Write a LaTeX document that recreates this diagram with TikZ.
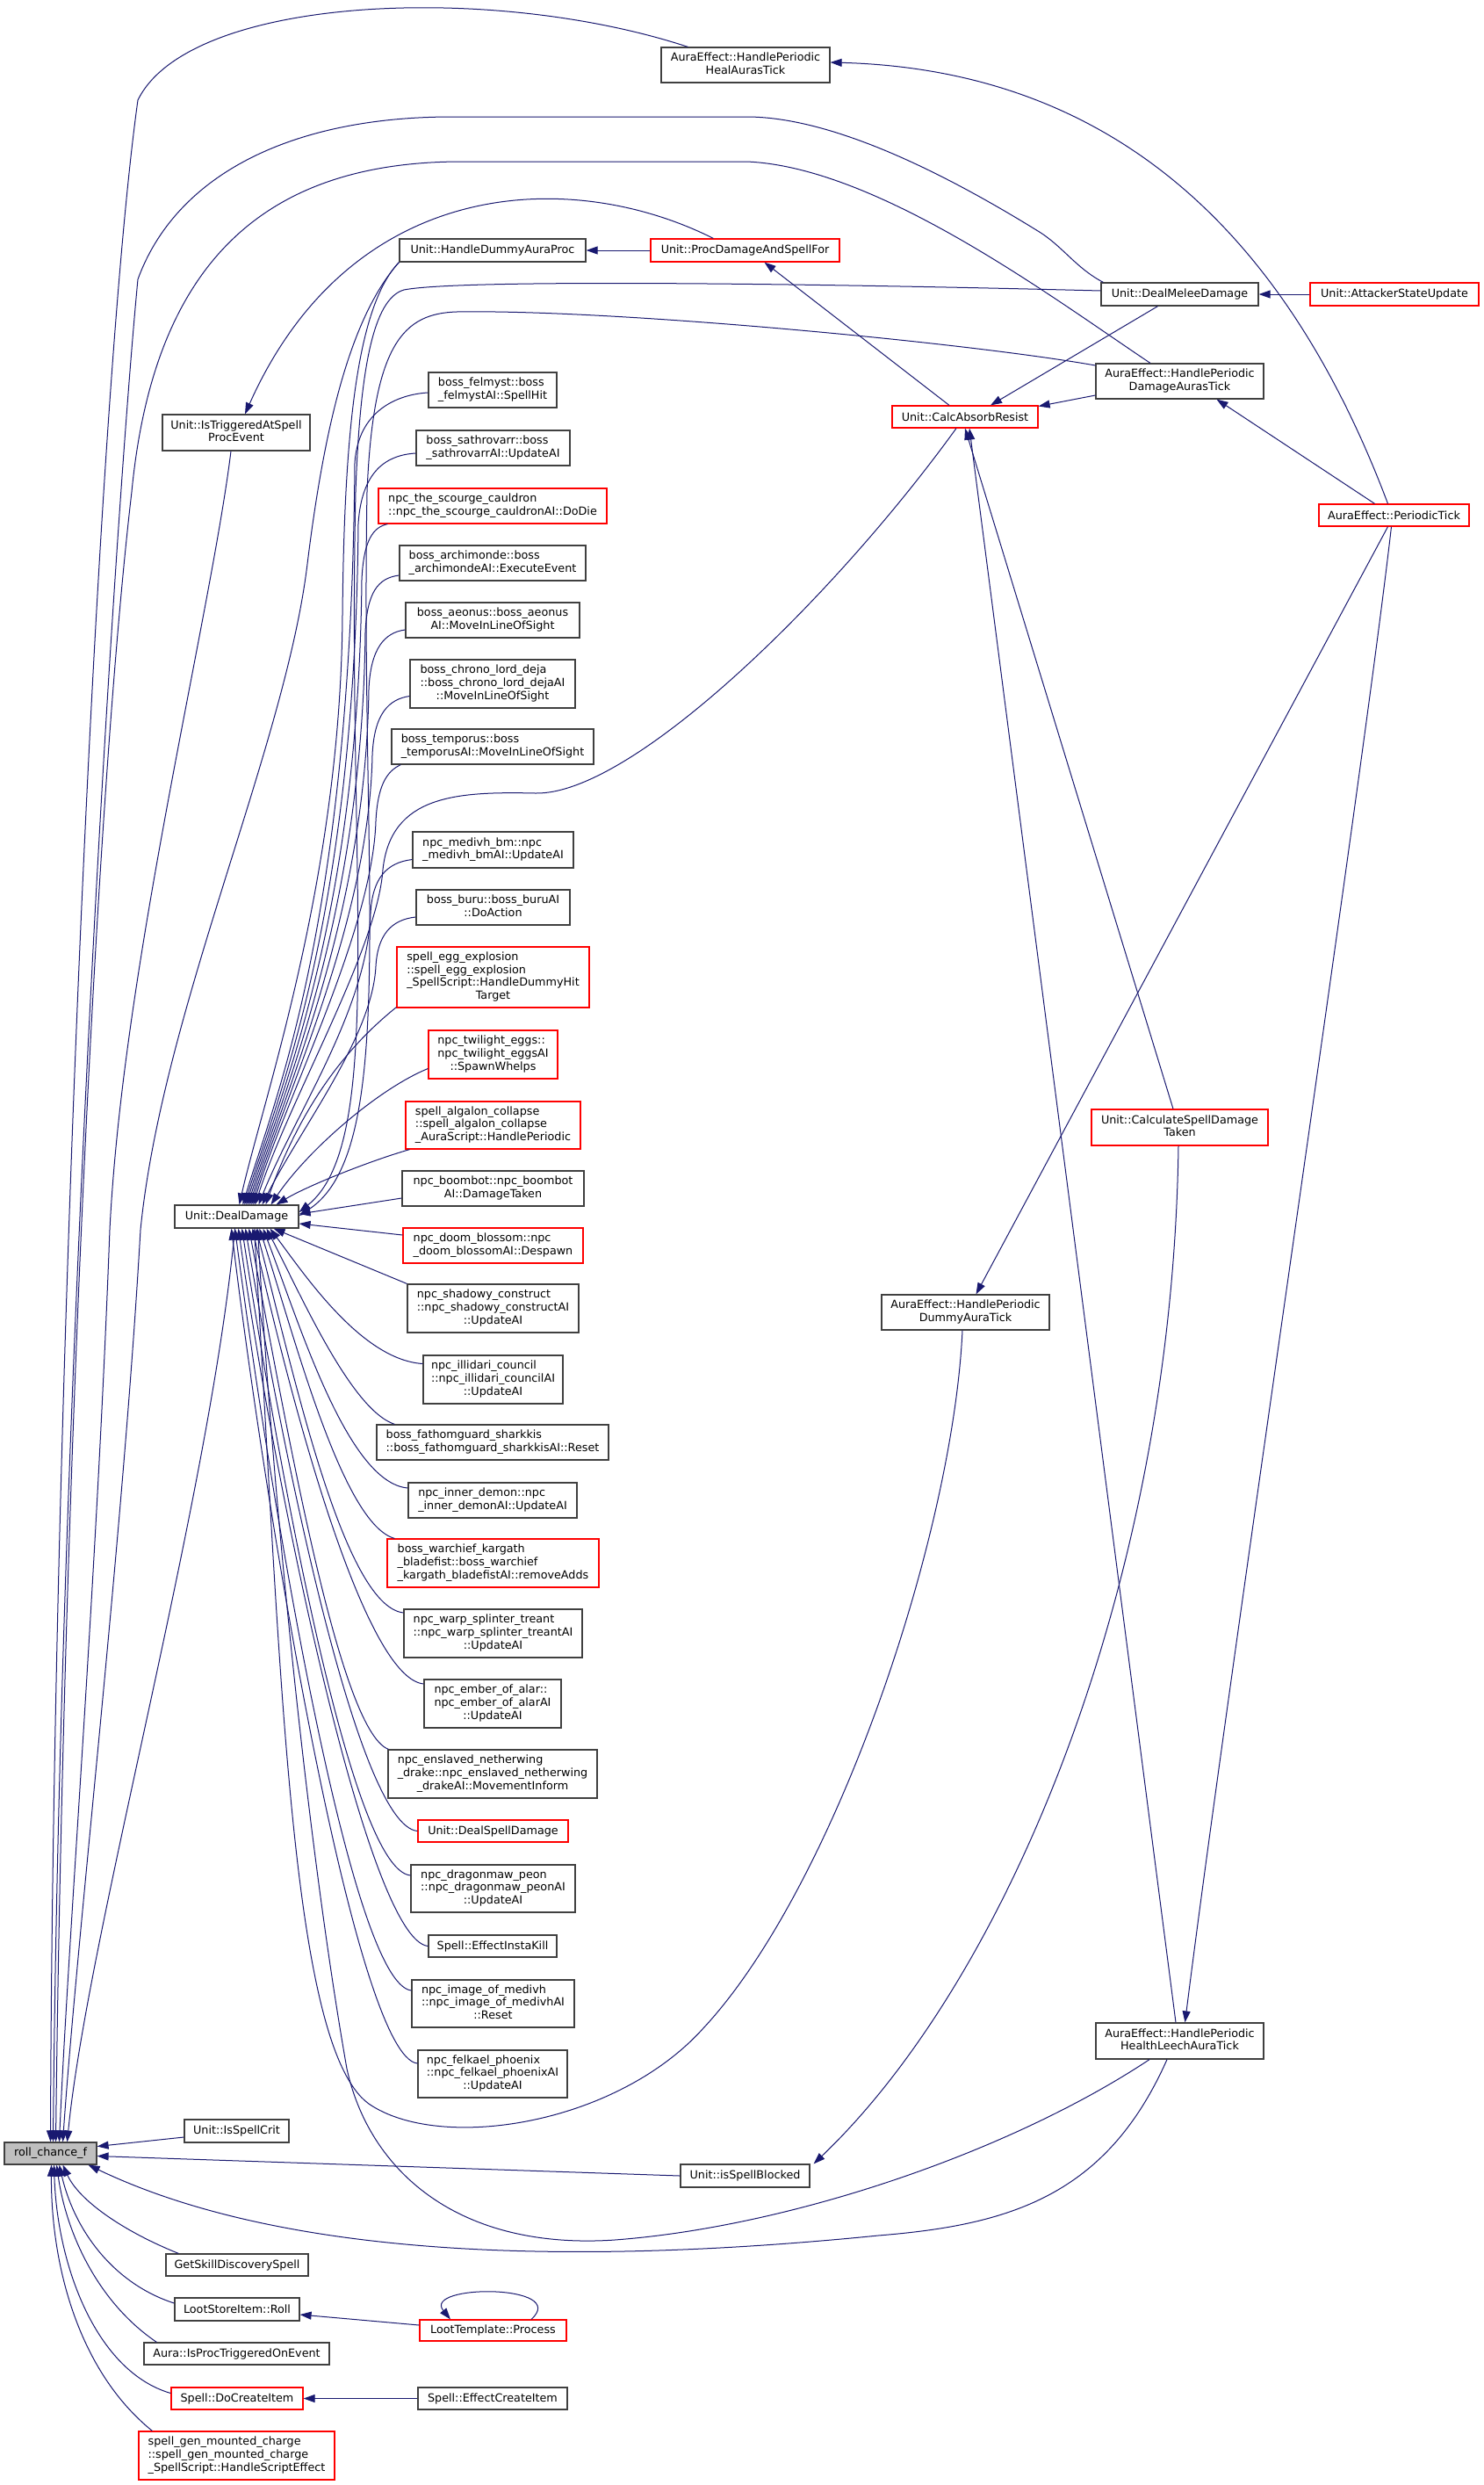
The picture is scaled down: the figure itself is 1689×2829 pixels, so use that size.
\documentclass[tikz,border=0pt]{standalone}
\usepackage{fontspec}
\setmainfont{DejaVu Sans}
\usetikzlibrary{arrows.meta,calc}
\definecolor{edgec}{HTML}{191970}
\definecolor{boxc}{HTML}{404040}
\definecolor{redc}{HTML}{FF0000}
\definecolor{rollfill}{HTML}{BFBFBF}
\newcommand\dlab[2]{\begin{tabular}{@{}l@{}}#1\\\multicolumn{1}{@{}c@{}}{#2}\end{tabular}}
\begin{document}
\begin{tikzpicture}[x=1pt,y=-1pt,
  dbox/.style={draw=boxc,line width=1.2pt,fill=white,inner sep=0pt,font=\fontsize{12.75pt}{14.6pt}\selectfont},
  rdbox/.style={dbox,draw=redc},
  conn/.style={draw=edgec,line width=1pt,-{Triangle[length=13pt,width=9pt]}}]
\fill[white] (0,0) rectangle (1689,2829);
\useasboundingbox (0,0) rectangle (1689,2829);

% ---------- nodes ----------
\node[dbox,minimum width=105pt,minimum height=25pt,fill=rollfill] (roll) at (57.5,2451.5) {roll\_chance\_f};
\node[dbox,minimum width=168pt,minimum height=41pt] (isTrig) at (269,492.5) {\dlab{Unit::IsTriggeredAtSpell}{ProcEvent}};
\node[dbox,minimum width=192pt,minimum height=40pt] (heal) at (849,74) {\dlab{AuraEffect::HandlePeriodic}{HealAurasTick}};
\node[dbox,minimum width=212pt,minimum height=26pt] (dummyProc) at (561,285) {Unit::HandleDummyAuraProc};
\node[rdbox,minimum width=215pt,minimum height=26pt] (procDmg) at (848.5,285) {Unit::ProcDamageAndSpellFor};
\node[dbox,minimum width=179pt,minimum height=26pt] (melee) at (1343.5,335) {Unit::DealMeleeDamage};
\node[rdbox,minimum width=192pt,minimum height=26pt] (attacker) at (1588,335) {Unit::AttackerStateUpdate};
\node[dbox,minimum width=191pt,minimum height=40pt] (dmgTick) at (1343.5,434) {\dlab{AuraEffect::HandlePeriodic}{DamageAurasTick}};
\node[rdbox,minimum width=166pt,minimum height=25pt] (calcAbs) at (1099,474.5) {Unit::CalcAbsorbResist};
\node[rdbox,minimum width=171pt,minimum height=25pt] (periodic) at (1587.5,586.5) {AuraEffect::PeriodicTick};

\node[dbox,minimum width=146pt,minimum height=40pt] (felmyst) at (561,444) {\dlab{boss\_felmyst::boss}{\_felmystAI::SpellHit}};
\node[dbox,minimum width=175pt,minimum height=40pt] (sath) at (561.5,510) {\dlab{boss\_sathrovarr::boss}{\_sathrovarrAI::UpdateAI}};
\node[rdbox,minimum width=260pt,minimum height=40pt] (cauldron) at (561,576) {\dlab{npc\_the\_scourge\_cauldron}{::npc\_the\_scourge\_cauldronAI::DoDie}};
\node[dbox,minimum width=212pt,minimum height=40pt] (archi) at (561,641) {\dlab{boss\_archimonde::boss}{\_archimondeAI::ExecuteEvent}};
\node[dbox,minimum width=198pt,minimum height=40pt] (aeonus) at (561,706) {\dlab{boss\_aeonus::boss\_aeonus}{AI::MoveInLineOfSight}};
\node[dbox,minimum width=188pt,minimum height=55pt] (chrono) at (561,778.5) {\dlab{boss\_chrono\_lord\_deja\\::boss\_chrono\_lord\_dejaAI}{::MoveInLineOfSight}};
\node[dbox,minimum width=230pt,minimum height=40pt] (temporus) at (561,850) {\dlab{boss\_temporus::boss}{\_temporusAI::MoveInLineOfSight}};
\node[dbox,minimum width=183pt,minimum height=41pt] (medivhbm) at (561.5,967.5) {\dlab{npc\_medivh\_bm::npc}{\_medivh\_bmAI::UpdateAI}};
\node[dbox,minimum width=175pt,minimum height=40pt] (buru) at (561.5,1033) {\dlab{boss\_buru::boss\_buruAI}{::DoAction}};
\node[rdbox,minimum width=219pt,minimum height=69pt] (egg) at (561.5,1112.5) {\dlab{spell\_egg\_explosion\\::spell\_egg\_explosion\\\_SpellScript::HandleDummyHit}{Target}};
\node[rdbox,minimum width=147pt,minimum height=55pt] (twilight) at (561.5,1200.5) {\dlab{npc\_twilight\_eggs::\\npc\_twilight\_eggsAI}{::SpawnWhelps}};
\node[rdbox,minimum width=199pt,minimum height=54pt] (algalon) at (561.5,1281) {\dlab{spell\_algalon\_collapse\\::spell\_algalon\_collapse}{\_AuraScript::HandlePeriodic}};
\node[dbox,minimum width=207pt,minimum height=40pt] (boombot) at (561.5,1353) {\dlab{npc\_boombot::npc\_boombot}{AI::DamageTaken}};
\node[rdbox,minimum width=205pt,minimum height=40pt] (doom) at (561.5,1418) {\dlab{npc\_doom\_blossom::npc}{\_doom\_blossomAI::Despawn}};
\node[dbox,minimum width=195pt,minimum height=55pt] (shadowy) at (561.5,1489.5) {\dlab{npc\_shadowy\_construct\\::npc\_shadowy\_constructAI}{::UpdateAI}};
\node[dbox,minimum width=159pt,minimum height=55pt] (illidari) at (561.5,1570.5) {\dlab{npc\_illidari\_council\\::npc\_illidari\_councilAI}{::UpdateAI}};
\node[dbox,minimum width=264pt,minimum height=40pt] (fathom) at (561,1642) {\dlab{boss\_fathomguard\_sharkkis}{::boss\_fathomguard\_sharkkisAI::Reset}};
\node[dbox,minimum width=192pt,minimum height=40pt] (inner) at (561,1708) {\dlab{npc\_inner\_demon::npc}{\_inner\_demonAI::UpdateAI}};
\node[rdbox,minimum width=241pt,minimum height=55pt] (warchief) at (561.5,1779.5) {\dlab{boss\_warchief\_kargath\\\_bladefist::boss\_warchief}{\_kargath\_bladefistAI::removeAdds}};
\node[dbox,minimum width=203pt,minimum height=55pt] (warp) at (561.5,1859.5) {\dlab{npc\_warp\_splinter\_treant\\::npc\_warp\_splinter\_treantAI}{::UpdateAI}};
\node[dbox,minimum width=156pt,minimum height=55pt] (ember) at (561,1939.5) {\dlab{npc\_ember\_of\_alar::\\npc\_ember\_of\_alarAI}{::UpdateAI}};
\node[dbox,minimum width=238pt,minimum height=55pt] (enslaved) at (561,2019.5) {\dlab{npc\_enslaved\_netherwing\\\_drake::npc\_enslaved\_netherwing}{\_drakeAI::MovementInform}};
\node[rdbox,minimum width=171pt,minimum height=25pt] (dealSpell) at (561.5,2084.5) {Unit::DealSpellDamage};
\node[dbox,minimum width=187pt,minimum height=54pt] (dragonmaw) at (561.5,2150) {\dlab{npc\_dragonmaw\_peon\\::npc\_dragonmaw\_peonAI}{::UpdateAI}};
\node[dbox,minimum width=146pt,minimum height=25pt] (instakill) at (561,2215.5) {Spell::EffectInstaKill};
\node[dbox,minimum width=185pt,minimum height=54pt] (imageMed) at (561.5,2281) {\dlab{npc\_image\_of\_medivh\\::npc\_image\_of\_medivhAI}{::Reset}};
\node[dbox,minimum width=170pt,minimum height=54pt] (felkael) at (561,2361) {\dlab{npc\_felkael\_phoenix\\::npc\_felkael\_phoenixAI}{::UpdateAI}};

\node[dbox,minimum width=141pt,minimum height=26pt] (dealDmg) at (269.5,1385) {Unit::DealDamage};
\node[rdbox,minimum width=201pt,minimum height=41pt] (csdt) at (1343.5,1283.5) {\dlab{Unit::CalculateSpellDamage}{Taken}};
\node[dbox,minimum width=191pt,minimum height=40pt] (dummyTick) at (1099.5,1494) {\dlab{AuraEffect::HandlePeriodic}{DummyAuraTick}};
\node[dbox,minimum width=191pt,minimum height=41pt] (leech) at (1343.5,2323.5) {\dlab{AuraEffect::HandlePeriodic}{HealthLeechAuraTick}};
\node[dbox,minimum width=147pt,minimum height=26pt] (blocked) at (848.5,2477) {Unit::isSpellBlocked};
\node[dbox,minimum width=119pt,minimum height=26pt] (spellCrit) at (269.5,2426) {Unit::IsSpellCrit};
\node[dbox,minimum width=162pt,minimum height=25pt] (getSkill) at (270,2578.5) {GetSkillDiscoverySpell};
\node[dbox,minimum width=142pt,minimum height=26pt] (lootRoll) at (270,2629) {LootStoreItem::Roll};
\node[rdbox,minimum width=167pt,minimum height=24pt] (lootProc) at (561.5,2653) {LootTemplate::Process};
\node[dbox,minimum width=211pt,minimum height=25pt] (auraProc) at (269.5,2679.5) {Aura::IsProcTriggeredOnEvent};
\node[rdbox,minimum width=150pt,minimum height=25pt] (doCreate) at (270,2730.5) {Spell::DoCreateItem};
\node[dbox,minimum width=170pt,minimum height=25pt] (effCreate) at (561,2730.5) {Spell::EffectCreateItem};
\node[rdbox,minimum width=223pt,minimum height=55pt] (mounted) at (269.5,2795.5) {\dlab{spell\_gen\_mounted\_charge\\::spell\_gen\_mounted\_charge}{\_SpellScript::HandleScriptEffect}};

% ---------- top-right cluster ----------
\draw[conn] (procDmg.west) -- (dummyProc.east);
\draw[conn] ($(procDmg.north west)+(72,0)$) .. controls (650,190) and (400,200) .. ($(isTrig.north)+(10,0)$);
\draw[conn] ($(calcAbs.north)+(-18,0)$) -- ($(procDmg.south)+(22,0)$);
\draw[conn] (attacker.west) -- (melee.east);
\draw[conn] ($(melee.south)+(-25,0)$) -- ($(calcAbs.north)+(29,0)$);
\draw[conn] ($(dmgTick.west)+(0,16)$) -- ($(calcAbs.east)+(0,-12)$);
\draw[conn] ($(periodic.north)+(-22,0)$) -- ($(dmgTick.south)+(42,0)$);
\draw[conn] ($(periodic.north)+(-7,0)$) .. controls (1470,280) and (1280,80) .. ($(heal.east)+(0,-3)$);
\draw[conn] ($(periodic.south)+(-7,0)$) -- ($(dummyTick.north)+(12,0)$);
\draw[conn] ($(periodic.south)+(-3,0)$) .. controls (1550,900) and (1400,1900) .. ($(leech.north)+(6,0)$);
\draw[conn] ($(leech.north)+(-4.5,0)$) -- ($(calcAbs.south)+(5,0)$);
\draw[conn] ($(csdt.north)+(-7.5,0)$) -- ($(calcAbs.south)+(0,0)$);
\draw[conn] ($(csdt.south)+(-1.5,0)$) .. controls (1335,1800) and (1150,2250) .. ($(blocked.north east)+(4,0)$);

% ---------- into roll_chance_f from above ----------
\draw[conn] ($(heal.north west)+(31,0)$) .. controls (560,-20) and (215,-5) .. (157,114) .. controls (110,450) and (60,1600) .. (roll.north);
\draw[conn] ($(melee.north west)+(3,0)$) .. controls (1225,305) and (1210,280) .. (1182,263) .. controls (1080,200) and (950,133) .. (850,133) -- (515,133) .. controls (330,133) and (200,200) .. (157,318) .. controls (130,600) and (68,1600) .. ($(roll.north)+(3,0)$);
\draw[conn] ($(dmgTick.north)+(-33.5,0)$) .. controls (1200,340) and (1000,190) .. (850,184) -- (526,184) .. controls (300,184) and (175,300) .. (150,560) .. controls (110,900) and (72,1700) .. ($(roll.north)+(6,0)$);
\draw[conn] ($(isTrig.south)+(-6,0)$) .. controls (240,700) and (140,1100) .. (125,1400) .. controls (110,1800) and (78,2200) .. ($(roll.north)+(10,0)$);
\draw[conn] (dummyProc.south west) .. controls (400,360) and (370,480) .. (350,642) .. controls (325,850) and (185,1150) .. (160,1400) .. controls (140,1750) and (88,2200) .. ($(roll.north)+(14,0)$);
\draw[conn] ($(dealDmg.south)+(-2,0)$) .. controls (240,1700) and (100,2200) .. ($(roll.north)+(19,0)$);

% ---------- into roll_chance_f from the right / below ----------
\draw[conn] ($(spellCrit.west)+(0,7)$) -- ($(roll.east)+(0,-8)$);
\draw[conn] (blocked.west) -- ($(roll.east)+(0,3)$);
\draw[conn] ($(leech.south)+(-14.5,0)$) .. controls (1260,2500) and (1150,2533) .. (1000,2545) .. controls (600,2585) and (300,2560) .. ($(roll.south east)+(-10,0)$);
\draw[conn] ($(getSkill.north west)+(15,0)$) .. controls (140,2540) and (90,2505) .. ($(roll.south)+(14,0)$);
\draw[conn] ($(lootRoll.west)+(0,-7)$) .. controls (130,2600) and (85,2540) .. ($(roll.south)+(10,0)$);
\draw[conn] ($(auraProc.north west)+(15,0)$) .. controls (110,2620) and (75,2540) .. ($(roll.south)+(7,0)$);
\draw[conn] ($(doCreate.west)+(0,-6)$) .. controls (110,2700) and (65,2580) .. ($(roll.south)+(4,0)$);
\draw[conn] ($(mounted.north west)+(16,0)$) .. controls (90,2700) and (58,2580) .. ($(roll.south)+(1,0)$);
\draw[conn] ($(lootProc.west)+(0,-6)$) -- ($(lootRoll.east)+(0,6)$);
\draw[conn] ($(lootProc.north)+(43.5,0)$) .. controls (650,2600) and (480,2600) .. ($(lootProc.north)+(-48.5,0)$);
\draw[conn] (effCreate.west) -- (doCreate.east);

% ---------- into Unit::DealDamage from above ----------
\draw[conn] (dummyProc.south west) .. controls (405,350) and (392,500) .. (390,700) .. controls (388,1000) and (300,1250) .. ($(dealDmg.north)+(3,0)$);
\draw[conn] ($(melee.west)+(0,-4)$) .. controls (900,322) and (520,318) .. (460,330) .. controls (425,340) and (410,420) .. (405,560) .. controls (395,1000) and (440,1300) .. ($(dealDmg.east)+(0,-5)$);
\draw[conn] ($(dmgTick.west)+(0,-18)$) .. controls (1100,390) and (700,352) .. (520,355) .. controls (460,357) and (425,390) .. (418,560) .. controls (410,1000) and (455,1310) .. ($(dealDmg.east)+(0,-1)$);
\draw[conn] ($(felmyst.west)+(0,3)$) .. controls (453,449) and (408,467) .. (404,527) .. controls (400,1050) and (313,1250) .. ($(dealDmg.north)+(7,0)$);
\draw[conn] ($(sath.west)+(0,6)$) .. controls (440,518) and (412,536) .. (408,596) .. controls (404,1050) and (315,1250) .. ($(dealDmg.north)+(9,0)$);
\draw[conn] ($(cauldron.south west)+(11,0)$) .. controls (425,600) and (414,615) .. (412,660) .. controls (408,1050) and (317,1250) .. ($(dealDmg.north)+(11,0)$);
\draw[conn] ($(archi.west)+(0,14)$) .. controls (430,658) and (418,675) .. (416,720) .. controls (412,1050) and (319,1250) .. ($(dealDmg.north)+(13,0)$);
\draw[conn] ($(aeonus.west)+(0,11)$) .. controls (438,720) and (422,738) .. (420,785) .. controls (416,1050) and (321,1250) .. ($(dealDmg.north)+(15,0)$);
\draw[conn] ($(chrono.west)+(0,14)$) .. controls (443,796) and (426,812) .. (424,860) .. controls (420,1050) and (323,1250) .. ($(dealDmg.north)+(17,0)$);
\draw[conn] ($(temporus.south west)+(11,0)$) .. controls (440,878) and (430,895) .. (428,935) .. controls (424,1060) and (325,1250) .. ($(dealDmg.north)+(19,0)$);
\draw[conn] ($(calcAbs.south)+(-10,0)$) .. controls (950,680) and (720,905) .. (610,903) .. controls (520,901) and (445,905) .. (436,990) .. controls (430,1080) and (330,1250) .. ($(dealDmg.north)+(21,0)$);
\draw[conn] ($(medivhbm.west)+(0,11)$) .. controls (440,982) and (424,1000) .. (422,1040) .. controls (418,1150) and (335,1270) .. ($(dealDmg.north)+(25,0)$);
\draw[conn] ($(buru.west)+(0,11)$) .. controls (445,1047) and (430,1065) .. (428,1100) .. controls (424,1180) and (345,1280) .. ($(dealDmg.north)+(29,0)$);
\draw[conn] ($(egg.south west)+(0,-1)$) .. controls (410,1180) and (350,1240) .. ($(dealDmg.north)+(33,0)$);
\draw[conn] ($(twilight.west)+(0,16)$) .. controls (430,1240) and (350,1310) .. ($(dealDmg.north)+(39,0)$);
\draw[conn] ($(algalon.south west)+(5,0)$) .. controls (420,1322) and (350,1350) .. ($(dealDmg.north)+(45,0)$);
\draw[conn] ($(boombot.west)+(0,11)$) -- ($(dealDmg.east)+(0,-3)$);
\draw[conn] ($(doom.west)+(0,-12)$) -- ($(dealDmg.east)+(0,8)$);

% ---------- into Unit::DealDamage from below ----------
\draw[conn] (shadowy.north west) -- ($(dealDmg.south)+(42,0)$);
\draw[conn] ($(illidari.west)+(0,-18)$) .. controls (412,1548) and (347.5,1452) .. ($(dealDmg.south)+(38,0)$);
\draw[conn] ($(fathom.north west)+(21,0)$) .. controls (400,1605) and (343.5,1476) .. ($(dealDmg.south)+(34,0)$);
\draw[conn] ($(inner.west)+(0,-14)$) .. controls (395,1688) and (339.5,1502) .. ($(dealDmg.south)+(30,0)$);
\draw[conn] ($(warchief.north west)+(9,0)$) .. controls (390,1735) and (335.5,1522) .. ($(dealDmg.south)+(26,0)$);
\draw[conn] ($(warp.west)+(0,-23.5)$) .. controls (390,1828) and (331.5,1551) .. ($(dealDmg.south)+(22,0)$);
\draw[conn] ($(ember.west)+(0,-22.5)$) .. controls (413,1910) and (327.5,1580) .. ($(dealDmg.south)+(18,0)$);
\draw[conn] ($(enslaved.north west)+(1,0)$) .. controls (385,1970) and (323.5,1606) .. ($(dealDmg.south)+(14,0)$);
\draw[conn] (dealSpell.west) .. controls (406,2078) and (319.5,1638) .. ($(dealDmg.south)+(10,0)$);
\draw[conn] ($(dragonmaw.west)+(0,-15)$) .. controls (398,2128) and (315.5,1656) .. ($(dealDmg.south)+(6,0)$);
\draw[conn] (instakill.west) .. controls (418,2208) and (311.5,1684) .. ($(dealDmg.south)+(2,0)$);
\draw[conn] ($(imageMed.west)+(0,-15)$) .. controls (399,2258) and (307.5,1702) .. ($(dealDmg.south)+(-2,0)$);
\draw[conn] ($(felkael.west)+(0,-12)$) .. controls (406,2342) and (303.5,1731) .. ($(dealDmg.south)+(-6,0)$);
\draw[conn] ($(dummyTick.south)+(-3.5,0)$) .. controls (1085,1750) and (950,2150) .. (800,2310) .. controls (700,2420) and (500,2450) .. (420,2395) .. controls (330,2330) and (320,1900) .. ($(dealDmg.south)+(20,0)$);
\draw[conn] ($(leech.south)+(-34.5,0)$) .. controls (1150,2450) and (900,2535) .. (700,2550) .. controls (520,2562) and (420,2470) .. (395,2355) .. controls (350,2100) and (310,1700) .. ($(dealDmg.south)+(24,0)$);
\end{tikzpicture}
\end{document}
